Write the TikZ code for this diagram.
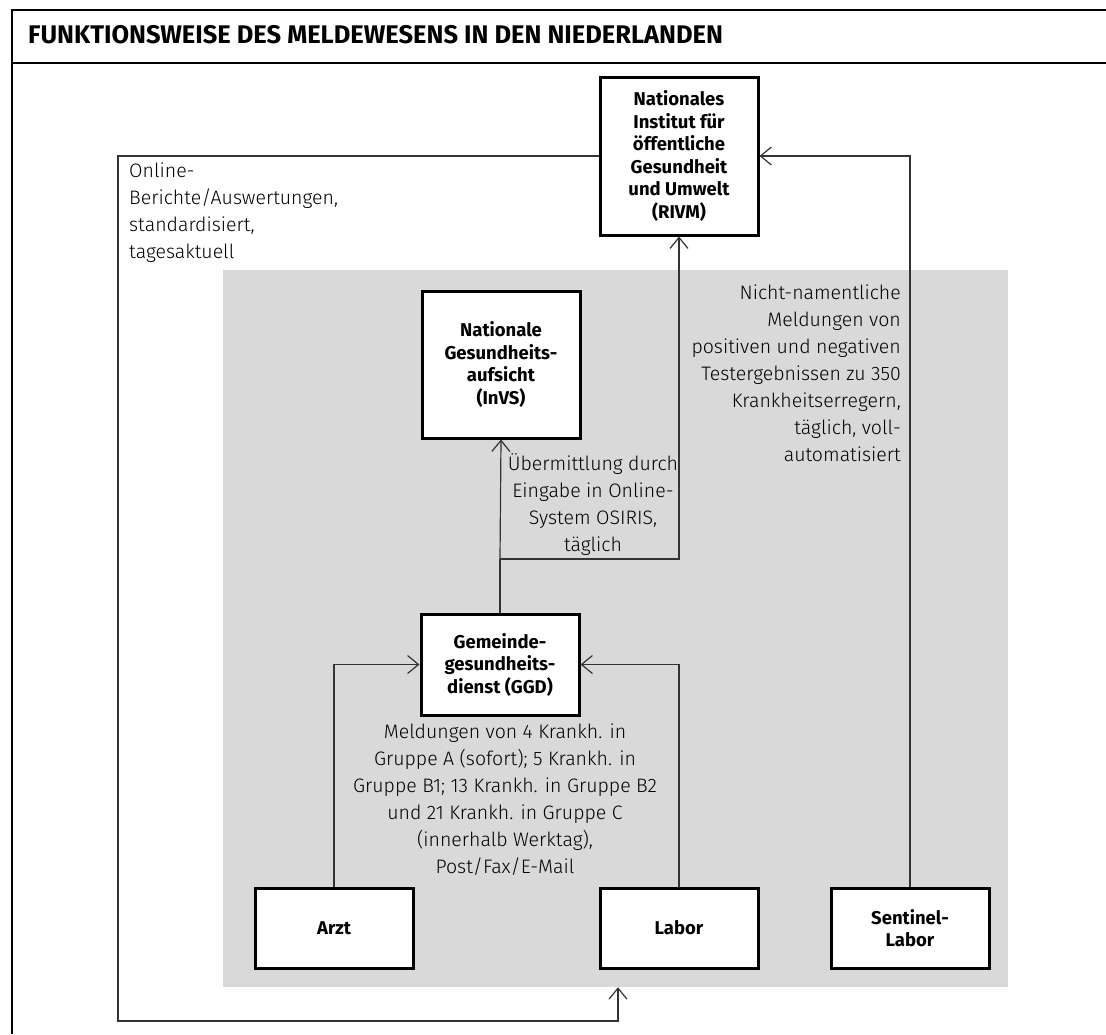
\documentclass[tikz,border=0pt]{standalone}
\usepackage{fontspec}
\setmainfont{Fira Sans}
\newfontfamily\leicht{Fira Sans Light}
\usetikzlibrary{positioning}
\usetikzlibrary{fit}
\usetikzlibrary{backgrounds}
\usetikzlibrary{arrows.meta}

\begin{document}
\begin{tikzpicture}[x=1pt, y=-1pt,
    stelle/.style={draw, line width=3pt, fill=white, align=center, inner sep=0pt, minimum width=158pt, font=\fontsize{18.5}{22.5}\selectfont\bfseries},
    info/.style={inner sep=0pt, font=\fontsize{19.5}{27}\selectfont\leicht},
    pfeil/.style={draw=black!80, line width=1.2pt, -{Straight Barb[length=11pt,width=18pt,line width=1.2pt]}}]
    \useasboundingbox (0,0) rectangle (1106,1034);
    % Rahmen und Titel
    \draw[line width=2.5pt] (1106,10) -- (12,10) -- (12,1034);
    \draw[line width=2pt] (12,63) -- (1106,63);
    \node[anchor=west, inner sep=0pt, font=\fontsize{25.5}{28}\selectfont\bfseries] (titel) at (28,35) {FUNKTIONSWEISE DES MELDEWESENS IN DEN NIEDERLANDEN};
    % Stellen
    \node[stelle, minimum height=158pt] (rivm) at (679,156) {Nationales\\Institut für\\öffentliche\\Gesundheit\\und Umwelt\\(RIVM)};
    \node[stelle, minimum height=147pt] (invs) at (501,364.5) {Nationale\\Gesundheits-\\aufsicht\\(InVS)};
    \node[stelle, minimum height=101pt] (ggd) at (500,664.5) {Gemeinde-\\gesundheits-\\dienst (GGD)};
    \node[stelle, minimum height=80pt] (arzt) at (334,928) {Arzt};
    \node[stelle, minimum height=80pt] (labor) at (679,928) {Labor};
    \node[stelle, minimum height=80pt] (sentinel) at (910,928) {Sentinel-\\Labor};
    \begin{scope}[on background layer]
        \node[fill=black!15, inner sep=0pt, minimum width=785pt, minimum height=717pt] (bereich) at (615.5,628.5) {};
    \end{scope}
    % Texte
    \node[info, align=left, anchor=north west] (online) at (129,163) {Online-\\Berichte/Auswertungen,\\standardisiert,\\tagesaktuell};
    \node[info, align=center] (osiris) at (593,505) {Übermittlung durch\\Eingabe in Online-\\System OSIRIS,\\täglich};
    \node[info, align=right, anchor=north east] (labormeldung) at (901,285) {Nicht-namentliche\\Meldungen von\\positiven und negativen\\Testergebnissen zu 350\\Krankheitserregern,\\täglich, voll-\\automatisiert};
    \node[info, align=center] (ggdmeldung) at (505,800) {Meldungen von 4 Krankh. in\\Gruppe A (sofort); 5 Krankh. in\\Gruppe B1; 13 Krankh. in Gruppe B2\\und 21 Krankh. in Gruppe C\\(innerhalb Werktag),\\Post/Fax/E-Mail};
    % Meldewege
    \coordinate (gabel) at (500,559);
    \coordinate (ecke) at (118,1021);
    \coordinate (rueck) at (618,1021);
    \draw[draw=black!80, line width=1.2pt] (ggd.north) -- (gabel);
    \path[pfeil] (gabel) -- (invs.south);
    \path[pfeil] (gabel) -| (rivm.south);
    \path[pfeil] (arzt.north) |- (ggd.west);
    \path[pfeil] (labor.north) |- (ggd.east);
    \path[pfeil] (sentinel.north) |- (rivm.east);
    \path[pfeil] (rivm.west) -| (ecke) -- (rueck) -- (rueck |- bereich.south);
\end{tikzpicture}
\end{document}
